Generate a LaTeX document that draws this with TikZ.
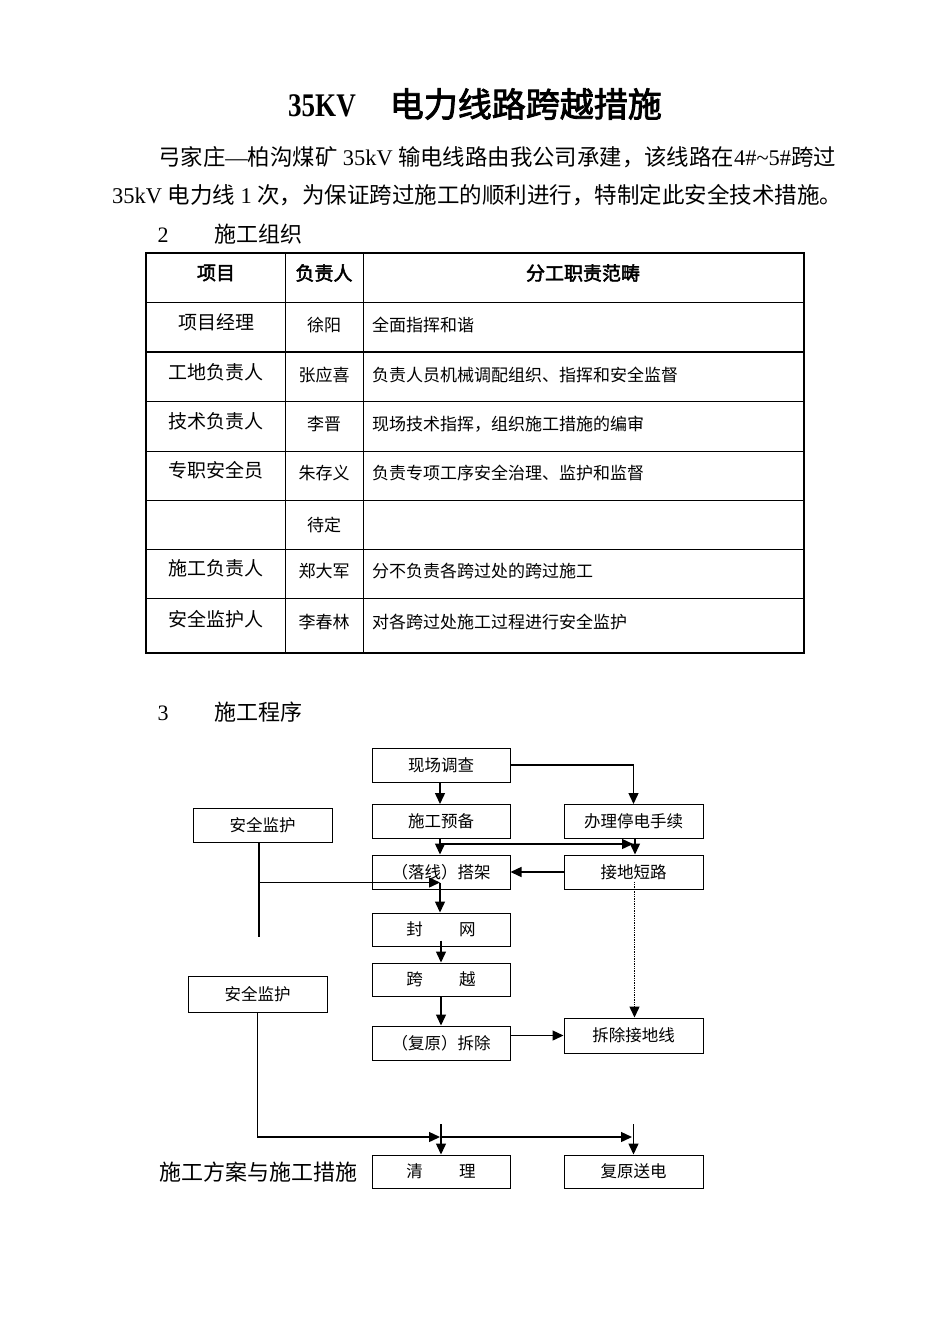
\documentclass[tikz,border=0pt]{standalone}
\usepackage{graphicx}
\usepackage{fontspec}
\setmainfont{Liberation Serif}
\newfontfamily\cjk{Noto Sans CJK SC}
\newfontfamily\cjkb[FakeBold=2.5]{Noto Sans CJK SC}
\newfontfamily\latfont{Liberation Serif}
\usetikzlibrary{arrows.meta,calc}
\newcommand\fs[1]{\fontsize{#1}{#1}\selectfont}
\newcommand\lat[1]{{\latfont #1}}
\newcommand\gapsp{\hspace{5.5pt}}
\tikzset{
  box/.style={draw, line width=1pt, minimum width=138pt, minimum height=34pt, inner sep=0pt, font=\cjk\fs{16.5}},
  conn/.style={line width=1.4pt},
  arr/.style={line width=1.4pt, -{Triangle[length=11pt,width=10pt]}},
  dotarr/.style={line width=1.4pt, densely dotted, -{Triangle[length=11pt,width=10pt]}},
  cell/.style={inner sep=0pt, font=\cjk\fs{17}},
  cellA/.style={inner sep=0pt, font=\cjk\fs{19}},
  head/.style={inner sep=0pt, font=\cjkb\fs{19}},
  thin/.style={line width=0.9pt},
  thick/.style={line width=1.6pt}
}
\begin{document}
\begin{tikzpicture}[x=1pt,y=-1pt]
\useasboundingbox (0,0) rectangle (950,1344);
% title
\node[inner sep=0pt] (title) at (475,104) {\lat{\bfseries\fs{33}\scalebox{0.82}[1]{35KV}}\hspace{34pt}{\cjkb\fs{34}电力线路跨越措施}};
% intro paragraph
\node[anchor=west,inner sep=0pt] (p1) at (158,157) {\hbox to 678pt{\cjk\fs{22.4}弓家庄\lat{—}柏沟煤矿\gapsp{}\lat{35kV}\gapsp{}输电线路由我公司承建，该线路在\lat{4\#\string~5\#}跨过\hss}};
\node[anchor=west,inner sep=0pt] (p2) at (112,195) {\hbox to 724pt{\cjk\fs{22.5}\lat{35kV}\gapsp{}电力线\gapsp{}\lat{1}\gapsp{}次，为保证跨过施工的顺利进行，特制定此安全技术措施。\hss}};
% section 2
\node[inner sep=0pt] (n2) at (163,235) {\lat{\fs{22}2}};
\node[anchor=west,inner sep=0pt] (s2) at (214,234) {\cjk\fs{22}施工组织};
% table
\draw[thick] (146,253) rectangle (804,653);
\foreach \yy in {302,401,451,500,549,598} \draw[thin] (146,\yy) -- (804,\yy);
\draw[thick] (146,352) -- (804,352);
\draw[thin] (285,253) -- (285,653);
\draw[thin] (363,253) -- (363,653);
\node[head] (h1) at (216,273) {项目};
\node[head] (h2) at (324,273) {负责人};
\node[head] (h3) at (583,273) {分工职责范畴};
\node[cellA] (a1) at (216,322) {项目经理};
\node[cell] (b1) at (324,325) {徐阳};
\node[cell,anchor=west] (c1) at (372,325) {全面指挥和谐};
\node[cellA] (a2) at (216,372) {工地负责人};
\node[cell] (b2) at (324,375) {张应喜};
\node[cell,anchor=west] (c2) at (372,375) {负责人员机械调配组织、指挥和安全监督};
\node[cellA] (a3) at (216,421) {技术负责人};
\node[cell] (b3) at (324,424) {李晋};
\node[cell,anchor=west] (c3) at (372,424) {现场技术指挥，组织施工措施的编审};
\node[cellA] (a4) at (216,470) {专职安全员};
\node[cell] (b4) at (324,473) {朱存义};
\node[cell,anchor=west] (c4) at (372,473) {负责专项工序安全治理、监护和监督};
\node[cell] (b5) at (324,525) {待定};
\node[cellA] (a6) at (216,568) {施工负责人};
\node[cell] (b6) at (324,571) {郑大军};
\node[cell,anchor=west] (c6) at (372,571) {分不负责各跨过处的跨过施工};
\node[cellA] (a7) at (216,619) {安全监护人};
\node[cell] (b7) at (324,622) {李春林};
\node[cell,anchor=west] (c7) at (372,622) {对各跨过处施工过程进行安全监护};
% section 3
\node[inner sep=0pt] (n3) at (163,713) {\lat{\fs{22}3}};
\node[anchor=west,inner sep=0pt] (s3) at (214,712) {\cjk\fs{22}施工程序};
% flowchart boxes
\node[box] (xc) at (441,765) {现场调查};
\node[box] (sg) at (441,821.5) {施工预备};
\node[box,minimum width=139pt] (bl) at (633.5,821.5) {办理停电手续};
\node[box,minimum width=139pt] (aq1) at (262.5,825) {安全监护};
\node[box] (dj) at (441,872) {（落线）搭架};
\node[box,minimum width=139pt] (jd) at (633.5,872) {接地短路};
\node[box,minimum height=33pt] (fw) at (441,929.5) {封\hspace{2.2em}网};
\node[box,minimum height=33pt] (ky) at (441,979.5) {跨\hspace{2.2em}越};
\node[box] (cc) at (441,1043) {（复原）拆除};
\node[box,minimum width=139pt,minimum height=35pt] (cj) at (633.5,1035.5) {拆除接地线};
\node[box,minimum width=139pt,minimum height=36pt] (aq2) at (257.5,994) {安全监护};
\node[box,minimum height=33pt] (ql) at (441,1171.5) {清\hspace{2.2em}理};
\node[box,minimum width=139pt,minimum height=33pt] (fy) at (633.5,1171.5) {复原送电};
\node[anchor=west,inner sep=0pt] (plan) at (159,1172) {\cjk\fs{22}施工方案与施工措施};
% connectors
\draw[arr] ([xshift=-1pt]xc.south) -- ([xshift=-1pt]sg.north);
\draw[arr] (xc.east) -| (bl.north);
\draw[arr] ([xshift=-1pt]sg.south) -- ([xshift=-1pt]dj.north);
\draw[arr] ($(sg.south)+(-1,5)$) -- ($(bl.south)+(-0.5,5)$);
\draw[arr] ([xshift=1.5pt]bl.south) -- ([xshift=1.5pt]jd.north);
\draw[arr] (jd.west) -- (dj.east);
\coordinate (aqend) at (259,937);
\draw[conn] ([xshift=-3.5pt]aq1.south) -- (aqend);
\draw[arr] ($(aq1.south)+(-3.5,40)$) -- ($(dj.south)+(-1,-7)$);
\draw[arr] ($(dj.south)+(-1,-7)$) -- ([xshift=-1pt]fw.north);
\draw[arr] ($(fw.south)+(0,-6)$) -- (ky.north);
\draw[arr] (ky.south) -- (cc.north);
\draw[arr] (cj.west -| cc.east) -- (cj.west);
\draw[dotarr] ($(jd.south)+(1,-8)$) -- ([xshift=1pt]cj.north);
\coordinate (j1) at (440,1137);
\coordinate (j2) at (632,1137);
\coordinate (t1) at (441,1124);
\coordinate (t2) at (633.5,1124);
\draw[arr] (aq2.south) |- (j1);
\draw[arr] (j1) -- (j2);
\draw[arr] (t1) -- (ql.north);
\draw[arr] (t2) -- (fy.north);
\end{tikzpicture}
\end{document}
